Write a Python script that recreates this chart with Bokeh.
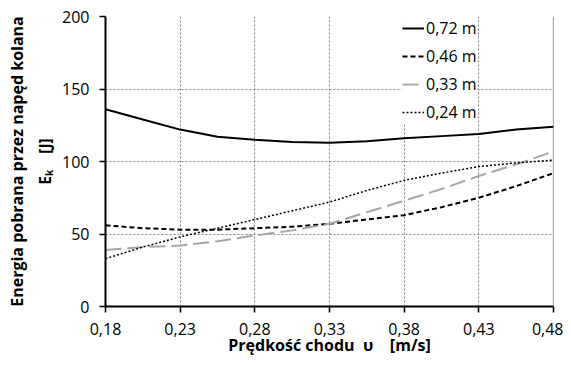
from bokeh.plotting import figure
from bokeh.models import (Range1d, FixedTicker, Legend, LegendItem, Span, Title)
from bokeh.embed import file_html
from bokeh.resources import INLINE

# ---- data ----
speed = [0.18, 0.205, 0.23, 0.255, 0.28, 0.305, 0.33, 0.355, 0.38, 0.405, 0.43, 0.455, 0.48]
e_072 = [136, 129, 122, 117, 115, 113.5, 113, 114, 116, 117.5, 119, 122, 124]
e_046 = [56, 54, 53, 53, 54, 55, 57, 60, 63, 68.5, 75, 83, 92]
e_033 = [39, 41, 42, 45, 49, 52.5, 57, 65, 73, 81, 90, 98, 107]
e_024 = [33, 41, 48, 54, 60, 66, 72, 80, 87, 92, 96.5, 99, 101]

x_ticks = [0.18, 0.23, 0.28, 0.33, 0.38, 0.43, 0.48]
x_tick_labels = ["0,18", "0,23", "0,28", "0,33", "0,38", "0,43", "0,48"]
y_ticks = [0, 50, 100, 150, 200]
series_names = ["0,72 m", "0,46 m", "0,33 m", "0,24 m"]

NB = "\u00a0"
x_title = "Prędkość chodu" + NB * 2 + "υ" + NB * 4 + "[m/s]"
y_title_inner = "Eₖ" + NB * 4 + "[J]"
y_title_outer = "Energia pobrana przez napęd kolana"

FONT = "Open Sans"

p = figure(width=563, height=365, output_backend="svg", toolbar_location=None,
           x_range=Range1d(0.18, 0.48), y_range=Range1d(0, 200),
           min_border_left=105, min_border_right=10, min_border_top=16, min_border_bottom=59)
p.outline_line_color = None
p.background_fill_color = "white"
p.border_fill_color = "white"

# axes
for ax in (p.xaxis, p.yaxis):
    ax.axis_line_color = "black"
    ax.axis_line_width = 2
    ax.major_tick_line_color = "black"
    ax.major_tick_line_width = 1.5
    ax.major_tick_out = 6
    ax.major_tick_in = 0
    ax.minor_tick_line_color = None
    ax.major_label_text_font = FONT
    ax.major_label_text_font_size = "16px"
    ax.major_label_text_color = "black"
    ax.axis_label_text_font = FONT
    ax.axis_label_text_font_style = "bold"
    ax.axis_label_text_color = "black"

p.xaxis.ticker = FixedTicker(ticks=x_ticks)
p.xaxis.major_label_overrides = {t: l for t, l in zip(x_ticks, x_tick_labels)}
p.xaxis.major_label_standoff = 10
p.xaxis.axis_label = x_title
p.xaxis.axis_label_text_font_size = "16px"
p.xaxis.axis_label_standoff = -4

p.yaxis.ticker = FixedTicker(ticks=y_ticks)
p.yaxis.major_label_standoff = 10

# y-axis titles (two lines, outer one further from the frame)
t_inner = Title(text=y_title_inner, align="center", offset=-21, standoff=8,
                text_font=FONT, text_font_style="bold", text_font_size="15.5px",
                text_color="black")
t_outer = Title(text=y_title_outer, align="center", offset=-11, standoff=0,
                text_font=FONT, text_font_style="bold", text_font_size="16px",
                text_color="black")
p.add_layout(t_inner, "left")
p.add_layout(t_outer, "left")

# grid
for g in (p.xgrid, p.ygrid):
    g.grid_line_color = "#808080"
    g.grid_line_dash = "2 2"
    g.grid_line_width = 1
p.xgrid.ticker = FixedTicker(ticks=x_ticks[1:-1])

# right border line
p.add_layout(Span(location=0.48, dimension="height", line_color="#595959", line_width=1.2))

# series
r1 = p.line(speed, e_072, line_color="black", line_width=2)
r2 = p.line(speed, e_046, line_color="black", line_width=2, line_dash="5 3")
r3 = p.line(speed, e_033, line_color="#a6a6a6", line_width=2, line_dash="16 6")
r4 = p.line(speed, e_024, line_color="black", line_width=1.5, line_dash="2 2")

legend = Legend(items=[LegendItem(label=n, renderers=[r]) for n, r in
                       zip(series_names, [r1, r2, r3, r4])],
                location=(297, 183))
legend.label_text_font = FONT
legend.label_text_font_size = "16px"
legend.label_text_color = "black"
legend.glyph_width = 22
legend.glyph_height = 20
legend.label_height = 20
legend.label_standoff = 2
legend.spacing = 6
legend.padding = 0
legend.margin = 0
legend.border_line_color = None
legend.background_fill_color = "white"
legend.background_fill_alpha = 1
p.add_layout(legend)

open("out.html", "w").write(file_html(p, INLINE))
